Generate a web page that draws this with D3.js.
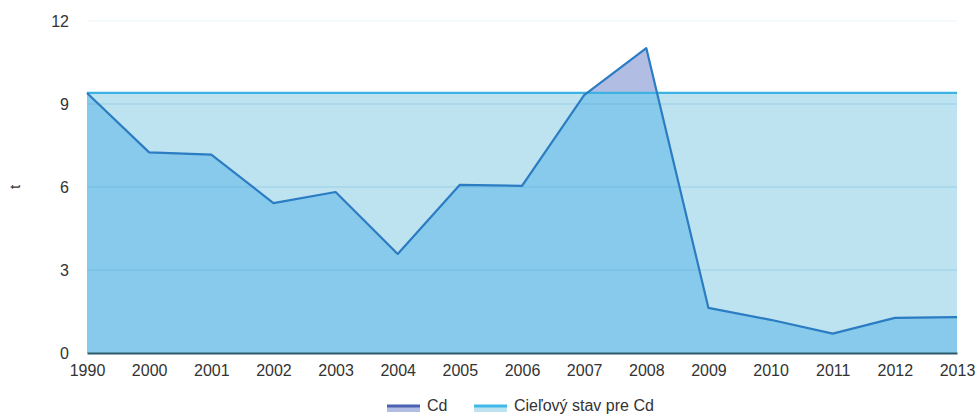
<!DOCTYPE html>
<html>
<head>
<meta charset="utf-8">
<script src="https://cdn.jsdelivr.net/npm/d3@7"></script>
<style>
html,body{margin:0;padding:0;background:#fff;}
svg{display:block;font-family:"Liberation Sans",Arial,sans-serif;}
</style>
</head>
<body>
<svg id="chart" width="978" height="414"></svg>
<script>
const categories = ["1990","2000","2001","2002","2003","2004","2005","2006","2007","2008","2009","2010","2011","2012","2013"];
const cdValues = [9.4, 7.25, 7.17, 5.42, 5.82, 3.58, 6.08, 6.04, 9.32, 11.02, 1.63, 1.2, 0.7, 1.27, 1.3];
const targetValues = [9.4, 9.4, 9.4, 9.4, 9.4, 9.4, 9.4, 9.4, 9.4, 9.4, 9.4, 9.4, 9.4, 9.4, 9.4];
const yTicks = [0, 3, 6, 9, 12];
const seriesNames = ["Cd", "Cieľový stav pre Cd"];
const yTitle = "t";

const svg = d3.select("#chart");
const m = {left: 87, right: 21, top: 21, bottom: 61};
const W = 978, H = 414;
const x = d3.scalePoint().domain(categories).range([m.left, W - m.right]);
const y = d3.scaleLinear().domain([0, 12]).range([H - m.bottom, m.top]);

const cd = categories.map((c, i) => ({c, v: cdValues[i]}));
const tg = categories.map((c, i) => ({c, v: targetValues[i]}));

const area = d3.area().x(d => x(d.c)).y0(y(0)).y1(d => y(d.v));
const line = d3.line().x(d => x(d.c)).y(d => y(d.v));

// target area (light)
svg.append("path").datum(tg).attr("d", area).attr("fill", "#bee3f0");
// Cd area above target (lavender)
svg.append("path").datum(cd).attr("d", area).attr("fill", "#b2bde3");
// Cd area below target
const defs = svg.append("defs");
defs.append("clipPath").attr("id", "belowT").append("rect")
  .attr("x", 0).attr("y", y(targetValues[0])).attr("width", W).attr("height", H);
svg.append("path").datum(cd).attr("d", area).attr("fill", "#87caeb").attr("clip-path", "url(#belowT)");

// gridlines
svg.append("g").selectAll("line").data(yTicks.filter(t => t > 0)).join("line")
  .attr("x1", m.left).attr("x2", W - m.right)
  .attr("y1", d => y(d)).attr("y2", d => y(d))
  .attr("stroke", "#3a9bd0").attr("stroke-opacity", d => d === 12 ? 0.1 : 0.28).attr("stroke-width", 1);

// target line
svg.append("path").datum(tg).attr("d", line).attr("fill", "none")
  .attr("stroke", "#3db2e3").attr("stroke-width", 2.2);
// Cd line
svg.append("path").datum(cd).attr("d", line).attr("fill", "none")
  .attr("stroke", "#2b7cc3").attr("stroke-width", 2.2).attr("stroke-linejoin", "round");

// x axis
const xAxis = svg.append("g").attr("transform", `translate(0,${y(0)})`)
  .call(d3.axisBottom(x).tickSize(0).tickPadding(12));
xAxis.select(".domain").attr("stroke", "#2e5b6b").attr("stroke-width", 2);
xAxis.selectAll("text").attr("font-size", 16).attr("fill", "#333").attr("font-family", "Liberation Sans, Arial, sans-serif");

// y axis
const yAxis = svg.append("g").attr("transform", `translate(${m.left - 18},0)`)
  .call(d3.axisLeft(y).tickValues(yTicks).tickSize(0).tickPadding(0));
yAxis.select(".domain").remove();
yAxis.selectAll("text").attr("font-size", 16).attr("fill", "#333").attr("font-family", "Liberation Sans, Arial, sans-serif");

// y title
svg.append("text").attr("transform", `translate(20,${y(6)}) rotate(-90)`)
  .attr("text-anchor", "middle").attr("font-size", 15).attr("fill", "#333").text(yTitle);

// legend
const leg = svg.append("g").attr("transform", "translate(0,405)");
const items = [
  {x: 387, line: "#4a62b2", fill: "#b2bde3", name: seriesNames[0]},
  {x: 474, line: "#40b8e8", fill: "#bee3f0", name: seriesNames[1]}
];
items.forEach(it => {
  leg.append("rect").attr("x", it.x).attr("y", 0).attr("width", 33).attr("height", 7).attr("fill", it.fill);
  leg.append("line").attr("x1", it.x).attr("x2", it.x + 33).attr("y1", 1).attr("y2", 1)
    .attr("stroke", it.line).attr("stroke-width", 3);
  leg.append("text").attr("x", it.x + 40).attr("y", 6).attr("font-size", 16).attr("fill", "#333").text(it.name);
});
</script>
</body>
</html>
